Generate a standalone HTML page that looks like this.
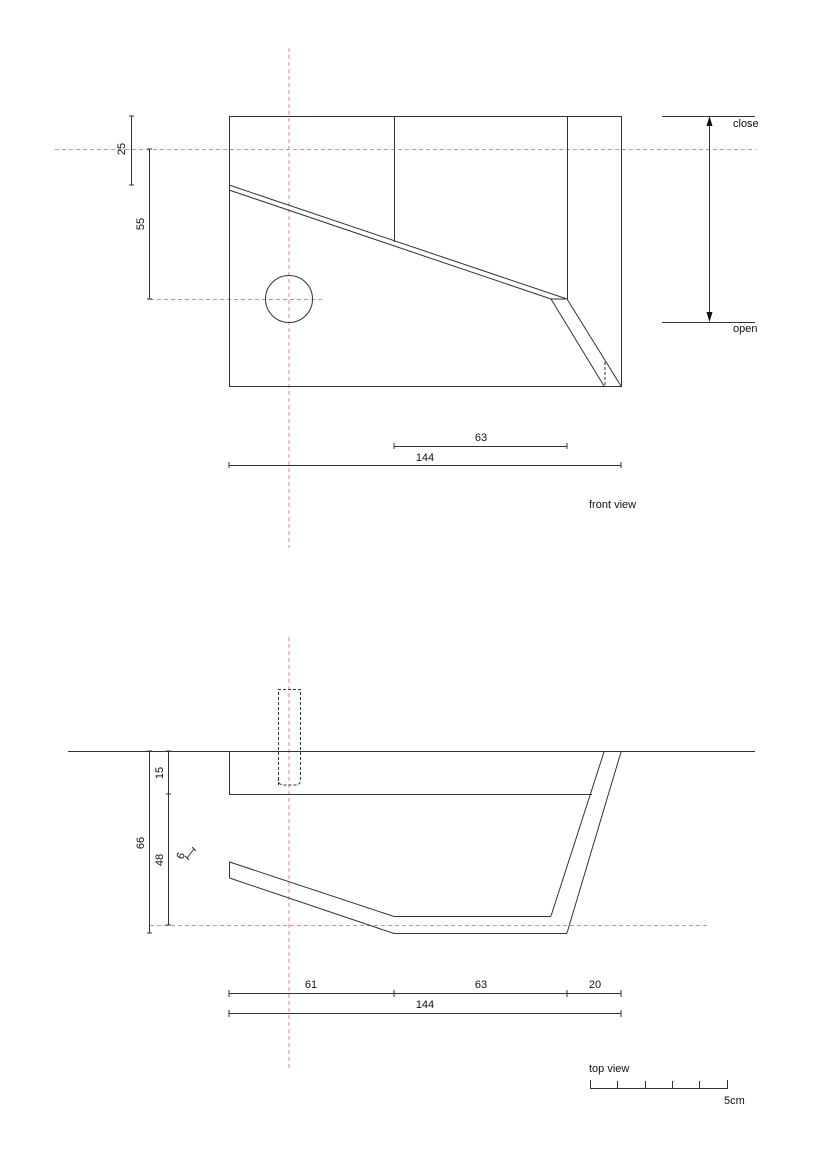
<!DOCTYPE html>
<html><head><meta charset="utf-8"><style>
html,body{margin:0;padding:0;background:#fff;}
svg{display:block;}
text{font-family:"Liberation Sans",Arial,sans-serif;font-size:11px;fill:#111;}
</style></head><body>
<svg width="818" height="1153" viewBox="0 0 818 1153" xmlns="http://www.w3.org/2000/svg">
<g stroke="#d98c8c" stroke-width="1" stroke-dasharray="4,3" fill="none">
<line x1="289" y1="48" x2="289" y2="548"/>
<line x1="55" y1="149.5" x2="756" y2="149.5"/>
<line x1="150" y1="299.5" x2="325" y2="299.5"/>
<line x1="289" y1="637" x2="289" y2="1068"/>
<line x1="150" y1="925.5" x2="707" y2="925.5"/>
</g>
<g stroke="#333" stroke-width="1" fill="none">
<!-- front view -->
<rect x="229.5" y="116.5" width="392" height="270"/>
<line x1="394.5" y1="116" x2="394.5" y2="242"/>
<line x1="567.5" y1="116" x2="567.5" y2="299"/>
<line x1="229" y1="185" x2="567" y2="299"/>
<line x1="229" y1="190" x2="551" y2="299"/>
<line x1="551" y1="299" x2="567" y2="299"/>
<line x1="551" y1="299" x2="604" y2="386"/>
<line x1="567" y1="299" x2="621" y2="386"/>
<line x1="605" y1="362" x2="605" y2="386" stroke-dasharray="3,2"/>
<circle cx="289" cy="299" r="23.5"/>
<!-- left dims -->
<line x1="131.5" y1="116" x2="131.5" y2="185"/>
<line x1="149.5" y1="149" x2="149.5" y2="299"/>
<!-- right -->
<line x1="662" y1="116.5" x2="755" y2="116.5"/>
<line x1="662" y1="322.5" x2="755" y2="322.5"/>
<line x1="709.5" y1="124" x2="709.5" y2="314"/>
<!-- bottom dims -->
<line x1="394" y1="446.5" x2="567" y2="446.5"/>
<line x1="229" y1="465.5" x2="621" y2="465.5"/>
<!-- top view -->
<line x1="68" y1="751.5" x2="755" y2="751.5"/>
<polyline points="229.5,752 229.5,794.5 592,794.5"/>
<line x1="604" y1="752" x2="551" y2="916"/>
<line x1="621" y1="752" x2="567" y2="933"/>
<polyline points="229.5,878 229.5,862 394,916.5 551,916.5"/>
<polyline points="229.5,878 394,933.5 567,933.5"/>
<path d="M278.5,785 V689.5 H300.5 V780 Q300.5,785 295,785 H284 Q278.5,785 278.5,780" stroke-dasharray="3,2"/>
<line x1="149.5" y1="751" x2="149.5" y2="933"/>
<line x1="168.5" y1="751" x2="168.5" y2="925"/>
<line x1="187" y1="858" x2="194" y2="849"/>
<line x1="229" y1="993.5" x2="621" y2="993.5"/>
<line x1="229" y1="1013.5" x2="621" y2="1013.5"/>
<!-- scale bar -->
<polyline points="590.5,1080 590.5,1088.5 727.5,1088.5 727.5,1080"/>
<line x1="617.5" y1="1081" x2="617.5" y2="1088"/>
<line x1="645.5" y1="1081" x2="645.5" y2="1088"/>
<line x1="672.5" y1="1081" x2="672.5" y2="1088"/>
<line x1="699.5" y1="1081" x2="699.5" y2="1088"/>
</g>
<!-- ticks -->
<g stroke="#333" stroke-width="1">
<line x1="129" y1="116" x2="134" y2="116"/><line x1="129" y1="185" x2="134" y2="185"/>
<line x1="147" y1="149" x2="152" y2="149"/><line x1="147" y1="299" x2="152" y2="299"/>
<line x1="394" y1="443" x2="394" y2="449"/><line x1="567" y1="443" x2="567" y2="449"/>
<line x1="229" y1="462" x2="229" y2="468"/><line x1="621" y1="462" x2="621" y2="468"/>
<line x1="147" y1="751" x2="152" y2="751"/><line x1="147" y1="933" x2="152" y2="933"/>
<line x1="166" y1="751" x2="171" y2="751"/><line x1="166" y1="794" x2="171" y2="794"/><line x1="166" y1="925" x2="171" y2="925"/>
<line x1="185" y1="856" x2="189" y2="860"/><line x1="192" y1="847" x2="196" y2="851"/>
<line x1="229" y1="990" x2="229" y2="997"/><line x1="394" y1="990" x2="394" y2="997"/><line x1="567" y1="990" x2="567" y2="997"/><line x1="621" y1="990" x2="621" y2="997"/>
<line x1="229" y1="1010" x2="229" y2="1017"/><line x1="621" y1="1010" x2="621" y2="1017"/>
</g>
<polygon points="709.5,116 706.5,126 712.5,126" fill="#111"/>
<polygon points="709.5,322 706.5,312 712.5,312" fill="#111"/>
<text x="733" y="127">close</text>
<text x="733" y="332">open</text>
<text transform="translate(125,149) rotate(-90)" text-anchor="middle">25</text>
<text transform="translate(144,224) rotate(-90)" text-anchor="middle">55</text>
<text x="481" y="441" text-anchor="middle">63</text>
<text x="425" y="461" text-anchor="middle">144</text>
<text x="589" y="508">front view</text>
<text transform="translate(144,843) rotate(-90)" text-anchor="middle">66</text>
<text transform="translate(163,773) rotate(-90)" text-anchor="middle">15</text>
<text transform="translate(163,860) rotate(-90)" text-anchor="middle">48</text>
<text transform="translate(184,857) rotate(-70)" text-anchor="middle">6</text>
<text x="311" y="988" text-anchor="middle">61</text>
<text x="481" y="988" text-anchor="middle">63</text>
<text x="595" y="988" text-anchor="middle">20</text>
<text x="425" y="1008" text-anchor="middle">144</text>
<text x="589" y="1072">top view</text>
<text x="724" y="1104">5cm</text>
</svg>
</body></html>
